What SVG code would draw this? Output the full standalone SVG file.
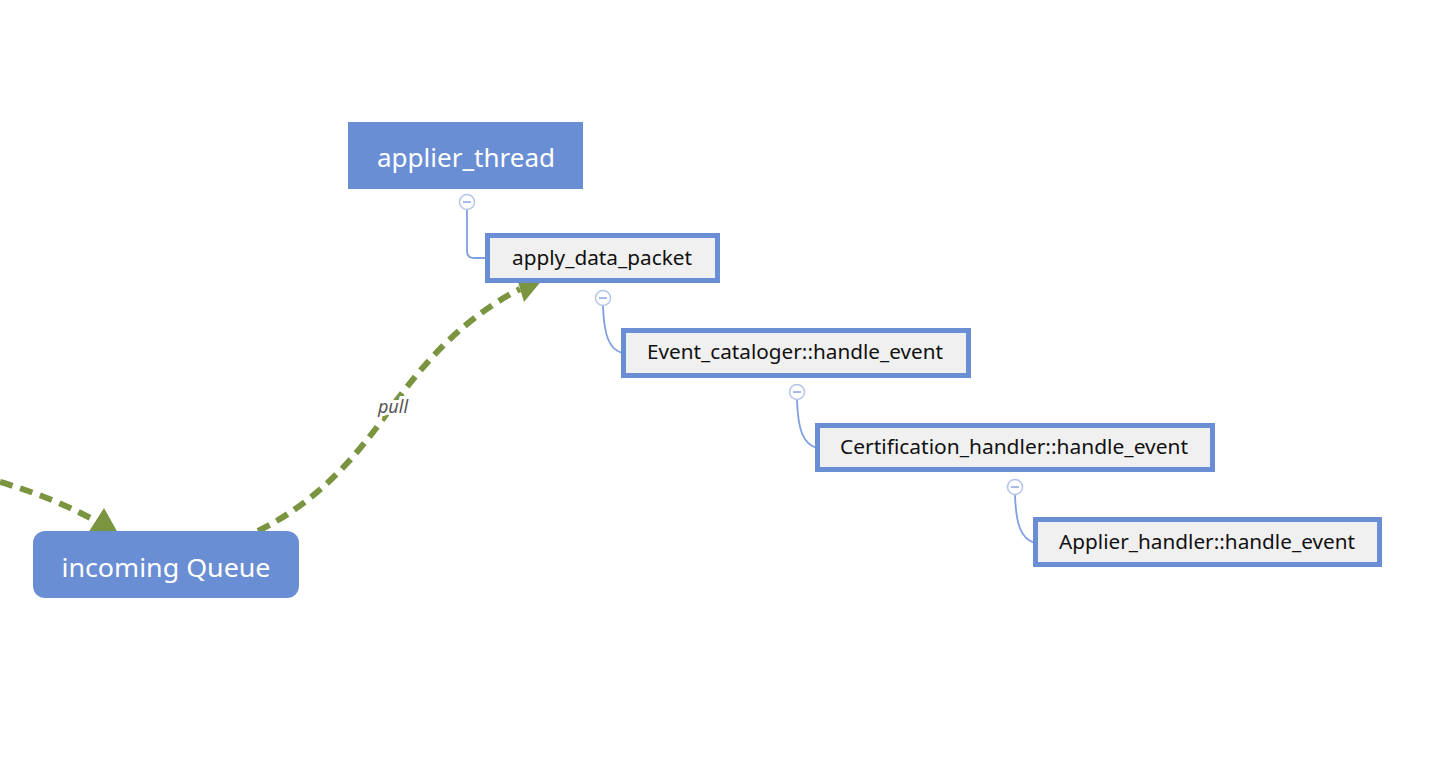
<svg xmlns="http://www.w3.org/2000/svg" width="1441" height="760" viewBox="0 0 1441 760">
<style>
.main{fill:#6a8ed4}
.mt{font-family:"Noto Sans","Open Sans",sans-serif;font-size:25px;fill:#ffffff;text-anchor:middle}
.sub{fill:#f0f0f0;stroke:#6a8ed4;stroke-width:5}
.st{font-family:"Noto Sans","Open Sans",sans-serif;font-size:19px;fill:#111111;text-anchor:middle}
.tree{fill:none;stroke:#7f9fe0;stroke-width:1.8}
.knob{fill:#ffffff;stroke:#b3c5ec;stroke-width:1.5}
.minus{stroke:#8aa5e0;stroke-width:1.5}
.flow{fill:none;stroke:#7a9440;stroke-width:6;stroke-dasharray:13 8}
.head{fill:#7a9440}
.lbl{font-family:"Noto Sans","Open Sans",sans-serif;font-size:18px;font-style:italic;fill:#555555;text-anchor:middle;paint-order:stroke;stroke:#ffffff;stroke-width:6}
</style>
<rect width="1441" height="760" fill="#ffffff"/>
<g id="connectors">
<path class="tree" d="M467,210 V251 Q467,258 474,258 H487"/>
<path class="tree" d="M603,306 C604,335 609,350 623,353"/>
<path class="tree" d="M797,400 C798,430 803,444 817,448"/>
<path class="tree" d="M1015,495 C1016,525 1021,539 1035,543"/>
<path class="flow" d="M0,482 Q52,497 98,522"/>
<path class="flow" d="M258,531 C310,505 345,470 380,423 C410,382 450,325 520,289"/>
<polygon class="head" points="104,508 88,533 118,533"/>
<polygon class="head" points="516,275 543,279 524,302"/>
<text class="lbl" x="393" y="413">pull</text>
</g>
<g id="applier_thread">
<rect class="main" x="348" y="122" width="235" height="67"/>
<text class="mt" x="466" y="167" textLength="178" lengthAdjust="spacingAndGlyphs">applier_thread</text>
</g>
<g id="knob1"><circle class="knob" cx="467" cy="202" r="7.5"/><line class="minus" x1="463" y1="202" x2="471" y2="202"/></g>
<g id="apply_data_packet">
<rect class="sub" x="487.5" y="235.5" width="230" height="45"/>
<text class="st" x="602" y="265" textLength="180" lengthAdjust="spacingAndGlyphs">apply_data_packet</text>
</g>
<g id="knob2"><circle class="knob" cx="603" cy="298" r="7.5"/><line class="minus" x1="599" y1="298" x2="607" y2="298"/></g>
<g id="event_cataloger">
<rect class="sub" x="623.5" y="330.5" width="345" height="45"/>
<text class="st" x="795" y="359" textLength="296" lengthAdjust="spacingAndGlyphs">Event_cataloger::handle_event</text>
</g>
<g id="knob3"><circle class="knob" cx="797" cy="392" r="7.5"/><line class="minus" x1="793" y1="392" x2="801" y2="392"/></g>
<g id="certification_handler">
<rect class="sub" x="817.5" y="425.5" width="395" height="44"/>
<text class="st" x="1014" y="454" textLength="348" lengthAdjust="spacingAndGlyphs">Certification_handler::handle_event</text>
</g>
<g id="knob4"><circle class="knob" cx="1015" cy="487" r="7.5"/><line class="minus" x1="1011" y1="487" x2="1019" y2="487"/></g>
<g id="applier_handler">
<rect class="sub" x="1035.5" y="519.5" width="344" height="45"/>
<text class="st" x="1207" y="549" textLength="296" lengthAdjust="spacingAndGlyphs">Applier_handler::handle_event</text>
</g>
<g id="incoming_queue">
<rect class="main" x="33" y="531" width="266" height="67" rx="12"/>
<text class="mt" x="166" y="577" font-size="26" textLength="209" lengthAdjust="spacingAndGlyphs">incoming Queue</text>
</g>
</svg>
